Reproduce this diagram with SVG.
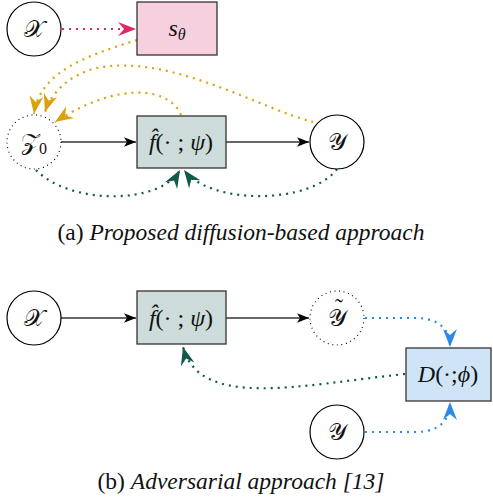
<svg xmlns="http://www.w3.org/2000/svg" width="493" height="501" viewBox="0 0 493 501">
<style>
.node{stroke:#000;stroke-width:1.2;fill:#fff}
.dnode{stroke:#000;stroke-width:1.1;fill:#fff;stroke-dasharray:1 3.6}
.box{stroke:#333;stroke-width:1.3}
.m{font-family:"Liberation Serif","DejaVu Serif",serif;font-style:italic;font-size:24px;fill:#111;text-anchor:middle}
.cal{font-family:"Liberation Serif","DejaVu Serif",serif;font-style:normal;font-size:24px;fill:#111;text-anchor:middle}
.c{font-family:"Liberation Serif","DejaVu Serif",serif;font-size:23.5px;fill:#111;text-anchor:middle}
.solid{fill:none;stroke:#333;stroke-width:1.3}
.dot{fill:none;stroke-width:2.2;stroke-dasharray:2 5}
</style>
<defs>
<marker id="ab" markerUnits="userSpaceOnUse" orient="auto" refX="0" refY="0" markerWidth="20" markerHeight="20" overflow="visible"><path d="M0,0 L-12,-4.8 L-9,0 L-12,4.8 Z" fill="#000"/></marker>
<marker id="ap" markerUnits="userSpaceOnUse" orient="auto" refX="0" refY="0" markerWidth="20" markerHeight="20" overflow="visible"><path d="M0,0 L-18,-7 L-12,0 L-18,7 Z" fill="#e0266c"/></marker>
<marker id="ay" markerUnits="userSpaceOnUse" orient="auto" refX="0" refY="0" markerWidth="20" markerHeight="20" overflow="visible"><path d="M0,0 L-18,-7 L-12,0 L-18,7 Z" fill="#d9a20c"/></marker>
<marker id="ag" markerUnits="userSpaceOnUse" orient="auto" refX="0" refY="0" markerWidth="20" markerHeight="20" overflow="visible"><path d="M0,0 L-18,-7 L-12,0 L-18,7 Z" fill="#0f5a4b"/></marker>
<marker id="al" markerUnits="userSpaceOnUse" orient="auto" refX="0" refY="0" markerWidth="20" markerHeight="20" overflow="visible"><path d="M0,0 L-18,-7 L-12,0 L-18,7 Z" fill="#2a8be6"/></marker>
</defs>

<g id="connectors">
<path class="dot" stroke="#e0266c" d="M62,29 L136,29" marker-end="url(#ap)"/>
<path class="solid" d="M61,142 L136,142" marker-end="url(#ab)"/>
<path class="solid" d="M226,142 L309,142" marker-end="url(#ab)"/>
<path class="dot" stroke="#d9a20c" d="M137,40 C90,55 40,70 34,114" marker-end="url(#ay)"/>
<path class="dot" stroke="#d9a20c" d="M313,122 C260,108 180,60 110,66 C75,69 52,90 45,112" marker-end="url(#ay)"/>
<path class="dot" stroke="#d9a20c" d="M181,115 C170,88 120,80 55,122" marker-end="url(#ay)"/>
<path class="dot" stroke="#0f5a4b" d="M36,170 C70,205 160,205 180,170" marker-end="url(#ag)"/>
<path class="dot" stroke="#0f5a4b" d="M337,169 C310,205 210,205 184,170" marker-end="url(#ag)"/>
<path class="solid" d="M61,318 L136,318" marker-end="url(#ab)"/>
<path class="solid" d="M226,318 L309,318" marker-end="url(#ab)"/>
<path class="dot" stroke="#2a8be6" d="M365,318 L415,318 C440,318 450,330 450,347" marker-end="url(#al)"/>
<path class="dot" stroke="#2a8be6" d="M365,432 L415,432 C440,432 450,420 450,402" marker-end="url(#al)"/>
<path class="dot" stroke="#0f5a4b" d="M405,374 C300,385 200,410 183,347" marker-end="url(#ag)"/>
</g>

<g id="a-X"><circle class="node" cx="34" cy="29" r="27"/><text class="cal" x="34" y="37">𝒳</text></g>
<g id="a-s"><rect class="box" x="137" y="2" width="80" height="53" fill="#f7d0df"/><text class="m" x="177" y="36">s<tspan font-size="16" dy="4">θ</tspan></text></g>
<g id="a-Z0"><circle class="dnode" cx="34" cy="142" r="27"/><text class="cal" x="34" y="150">𝒵<tspan font-size="16" dy="4">0</tspan></text></g>
<g id="a-f"><rect class="box" x="137" y="116" width="89" height="52" fill="#cddcda"/><text class="m" x="181" y="150">f̂<tspan font-style="normal">(·</tspan> <tspan font-style="normal">;</tspan> ψ<tspan font-style="normal">)</tspan></text></g>
<g id="a-Y"><circle class="node" cx="337" cy="142" r="27"/><text class="cal" x="337" y="150">𝒴</text></g>
<text class="c" x="241" y="240">(a) <tspan font-style="italic">Proposed diffusion-based approach</tspan></text>

<g id="b-X"><circle class="node" cx="34" cy="318" r="27"/><text class="cal" x="34" y="326">𝒳</text></g>
<g id="b-f"><rect class="box" x="137" y="291" width="89" height="53" fill="#cddcda"/><text class="m" x="181" y="326">f̂<tspan font-style="normal">(·</tspan> <tspan font-style="normal">;</tspan> ψ<tspan font-style="normal">)</tspan></text></g>
<g id="b-Yt"><circle class="dnode" cx="337" cy="318" r="27"/><text class="cal" x="337" y="326">𝒴</text><text class="cal" x="339" y="315" font-size="20">˜</text></g>
<g id="b-D"><rect class="box" x="406" y="348" width="85" height="53" fill="#d0e4f7"/><text class="m" x="448" y="382">D<tspan font-style="normal">(·;</tspan>ϕ<tspan font-style="normal">)</tspan></text></g>
<g id="b-Y"><circle class="node" cx="337" cy="432" r="27"/><text class="cal" x="337" y="440">𝒴</text></g>
<text class="c" x="241" y="489">(b) <tspan font-style="italic">Adversarial approach [13]</tspan></text>
</svg>
